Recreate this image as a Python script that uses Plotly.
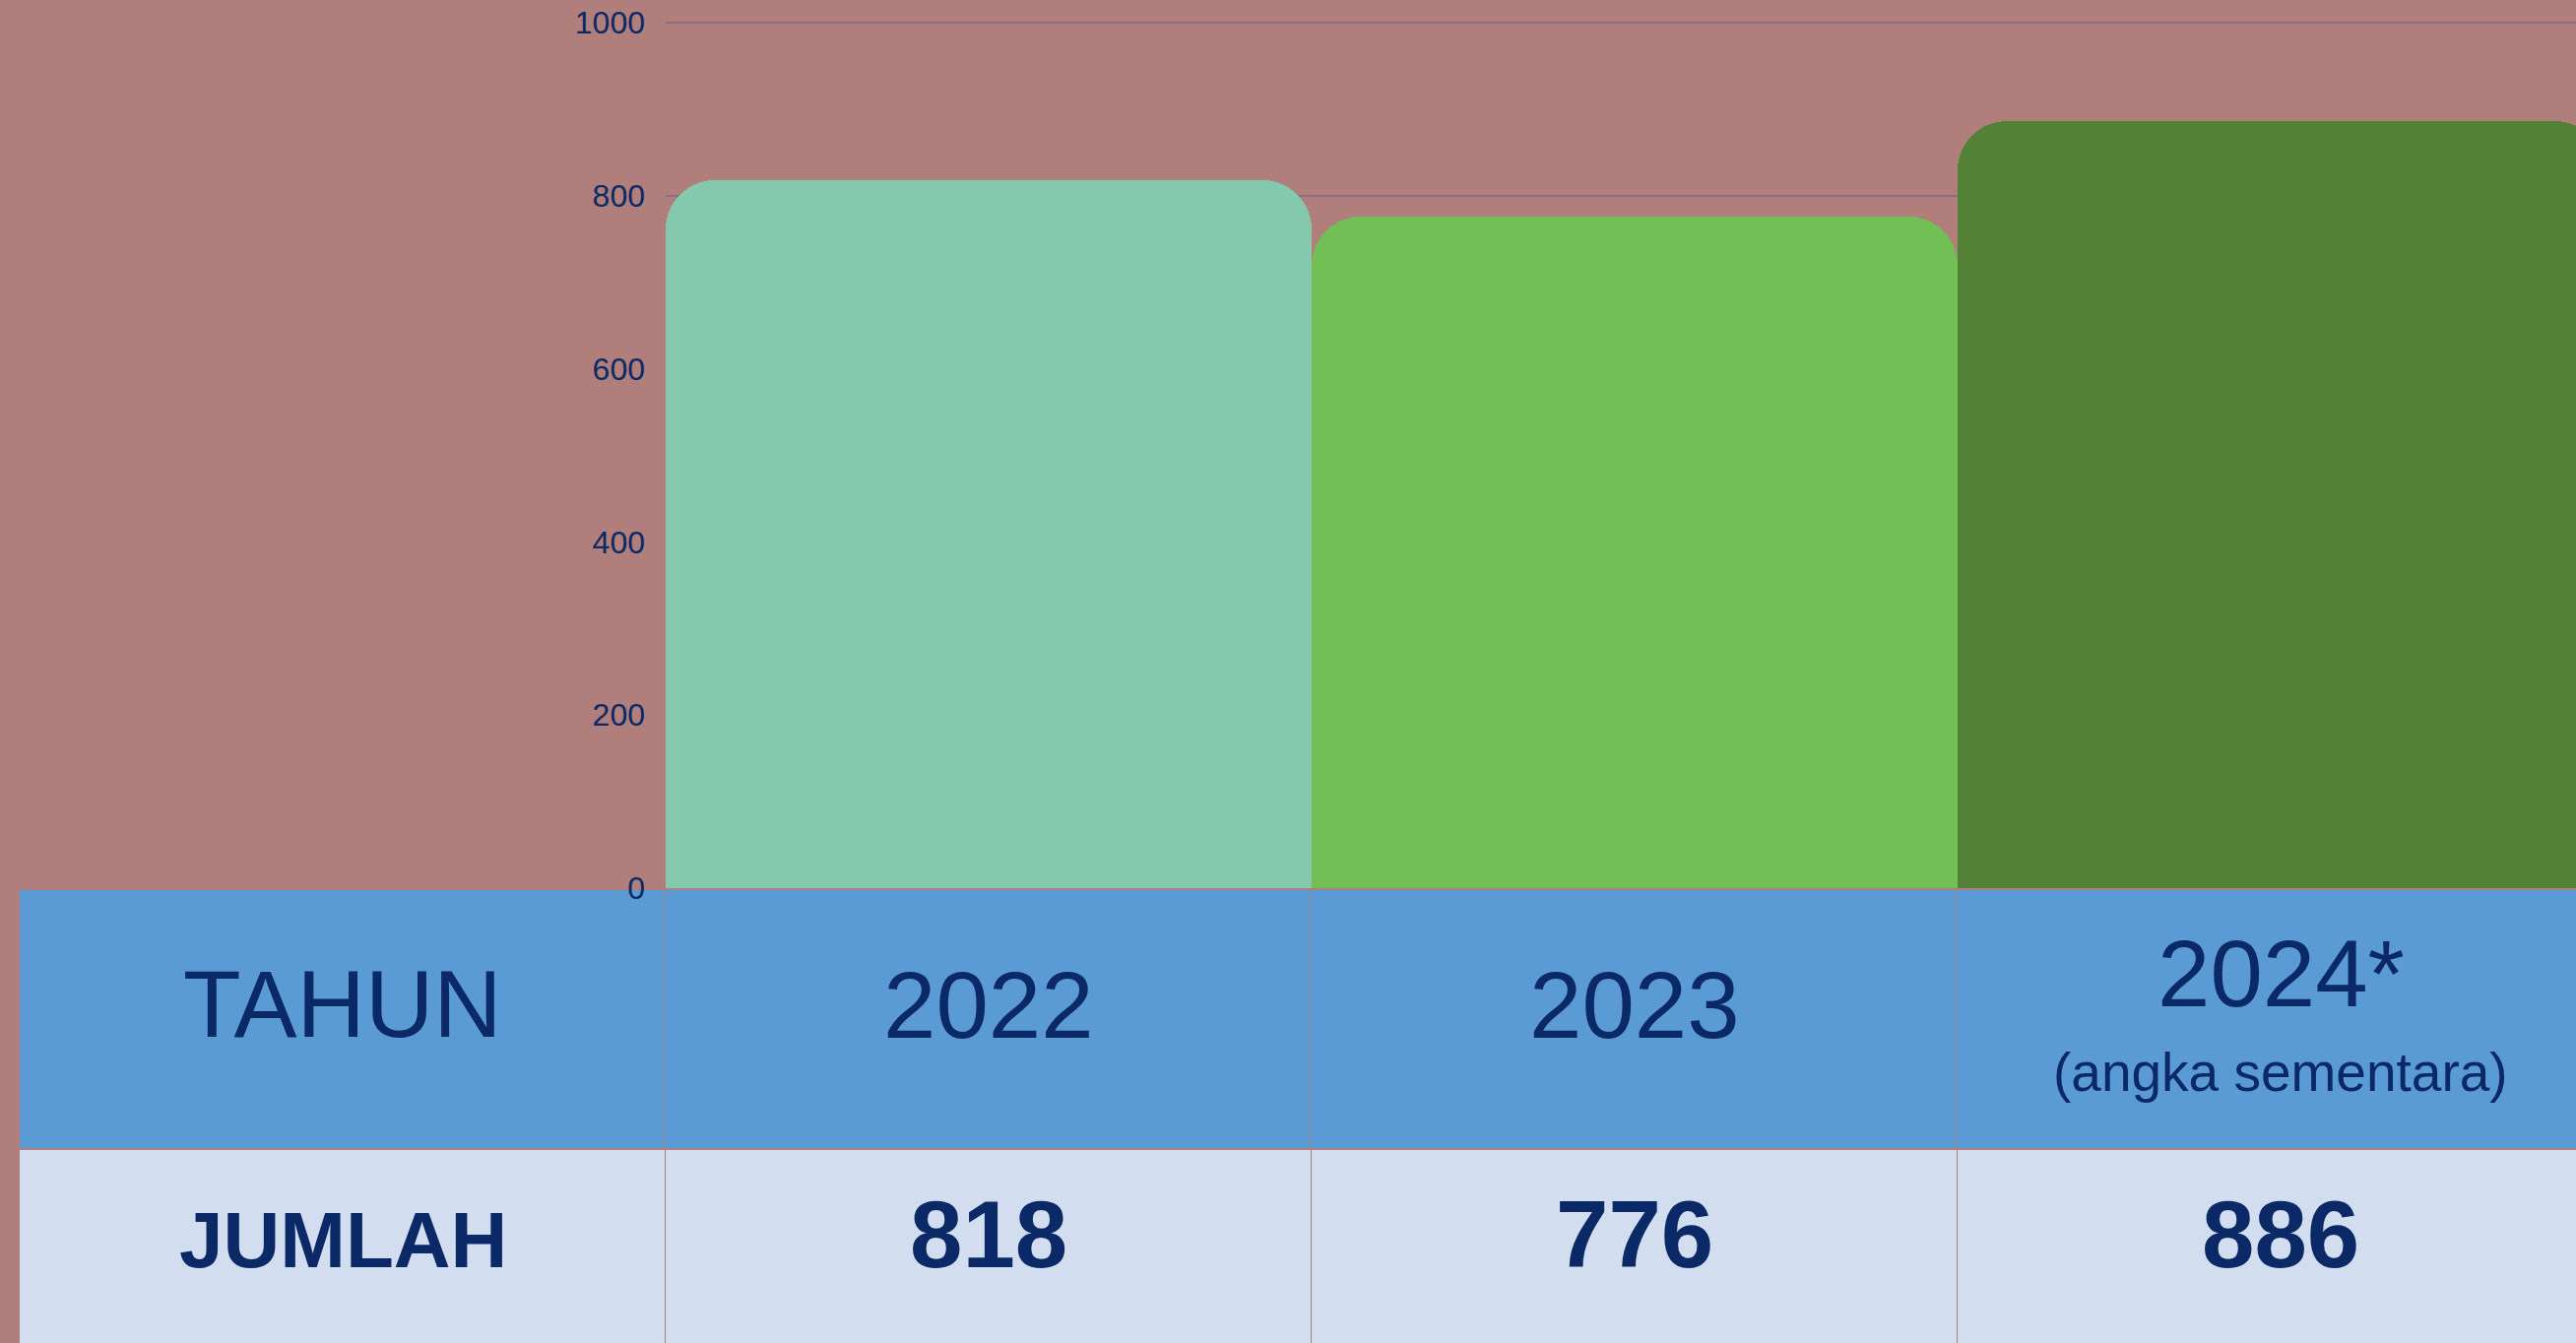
import plotly.graph_objects as go

# ---- data ----
years = ["2022", "2023", "2024*"]
year_notes = ["", "", "(angka sementara)"]
counts = [818, 776, 886]
row_labels = ["TAHUN", "JUMLAH"]
bar_colors = ["#84c8ad", "#72c055", "#538236"]
y_ticks = [0, 200, 400, 600, 800, 1000]

# ---- style / layout constants ----
W, H = 2616, 1364
BG = "#b07e7b"
NAVY = "#0b2966"
FONT = "Liberation Sans, Arial, sans-serif"
HEADER_BG = "#5b9bd5"
ROW_BG = "#d2deef"

col_w = 656
table_left = 20
plot_left = table_left + col_w
table_top = 903
row_h = 264
axis_zero_px = 902
axis_top_px = 23
ymax_tick = y_ticks[-1]

fig = go.Figure()

# table drawn as a heatmap (row 1 = header, row 0 = values)
cols = list(range(len(years) + 1))
z = [[1] * len(cols), [0] * len(cols)]
fig.add_trace(go.Heatmap(
    z=z, x=cols, y=[0, 1],
    colorscale=[[0, HEADER_BG], [1, ROW_BG]], zmin=0, zmax=1,
    showscale=False, xgap=1, ygap=2, hoverinfo="skip",
    xaxis="x", yaxis="y",
))

# bars
fig.add_trace(go.Bar(
    x=years, y=counts, width=1,
    marker=dict(color=bar_colors, cornerradius=50, line=dict(width=0)),
    xaxis="x2", yaxis="y2", hoverinfo="skip",
))

annotations = []
def ann(text, x, y, size, bold=False, yshift=0):
    annotations.append(dict(
        text=f"<b>{text}</b>" if bold else text,
        x=x, y=y, xref="x", yref="y", showarrow=False,
        xanchor="center", yanchor="middle", yshift=yshift,
        font=dict(family=FONT, size=size, color=NAVY),
    ))

# header row
ann(row_labels[0], 0, 1, 96, yshift=16)
for i, (yr, note) in enumerate(zip(years, year_notes)):
    if note:
        ann(yr, i + 1, 1, 96, yshift=47)
        ann(note, i + 1, 1, 55, yshift=-54)
    else:
        ann(yr, i + 1, 1, 96, yshift=15)
# values row
ann(row_labels[1], 0, 0, 80, bold=True, yshift=40)
for i, v in enumerate(counts):
    ann(str(v), i + 1, 0, 96, bold=True, yshift=46)

fig.update_layout(
    width=W, height=H, autosize=False,
    margin=dict(l=0, r=0, t=0, b=0, pad=0, autoexpand=False),
    paper_bgcolor=BG, plot_bgcolor=BG,
    showlegend=False, bargap=0,
    annotations=annotations,
    xaxis=dict(domain=[table_left / W, 1],
               range=[-0.5, -0.5 + (W - table_left) / col_w],
               visible=False, fixedrange=True, automargin=False),
    yaxis=dict(domain=[0, (H - table_top) / H],
               range=[1.5 - (H - table_top) / row_h, 1.5],
               visible=False, fixedrange=True, automargin=False),
    xaxis2=dict(domain=[plot_left / W, 1],
                range=[-0.5, -0.5 + (W - plot_left) / col_w],
                anchor="y2", showticklabels=False, showgrid=False,
                zeroline=False, showline=False, ticks="", automargin=False),
    yaxis2=dict(domain=[(H - axis_zero_px) / H, 1],
                range=[0, ymax_tick * axis_zero_px / (axis_zero_px - axis_top_px)],
                anchor="x2", tickvals=y_ticks,
                tickfont=dict(family=FONT, size=32, color=NAVY),
                ticklabelstandoff=20, automargin=False,
                showgrid=True, gridcolor="#8b6d80", gridwidth=2,
                zeroline=False, showline=False, ticks=""),
)

fig.write_html(
    "out.html",
    config={"displayModeBar": False},
    post_script=(
        "document.documentElement.style.margin='0';"
        "document.documentElement.style.overflow='hidden';"
        "document.body.style.margin='0';"
        "document.body.style.overflow='hidden';"
    ),
)
